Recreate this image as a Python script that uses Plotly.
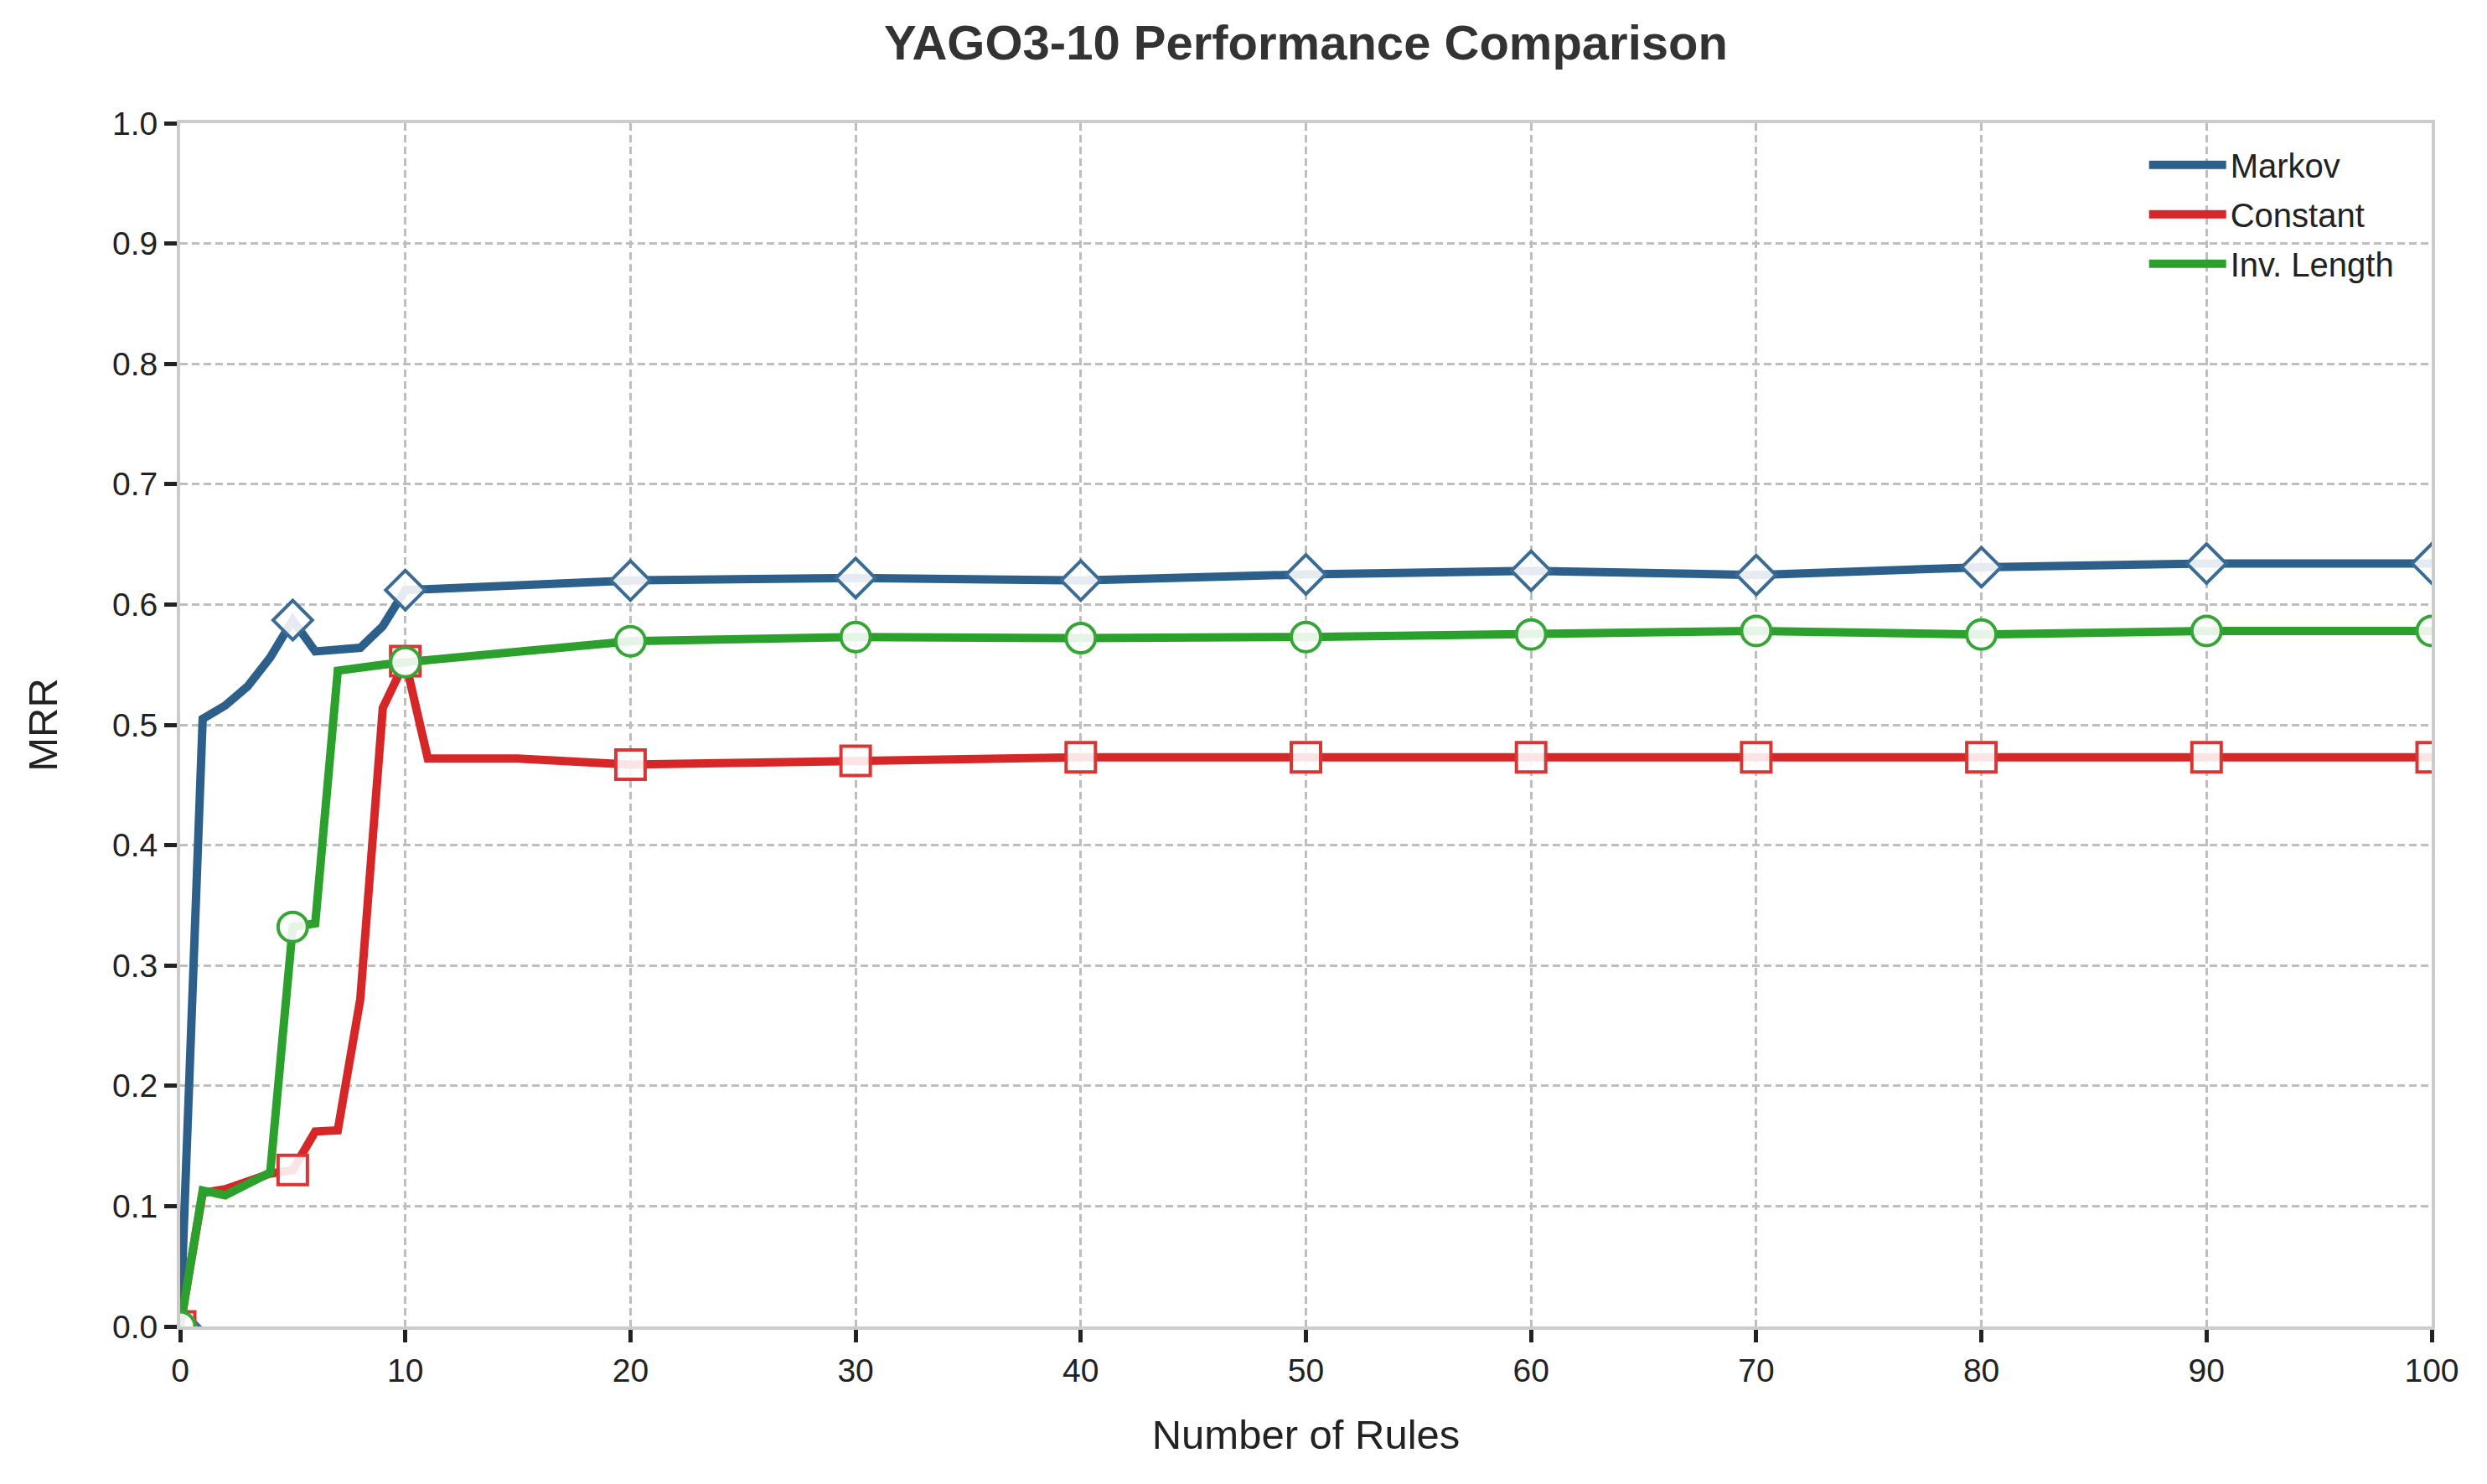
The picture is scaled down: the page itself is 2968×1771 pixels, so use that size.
import plotly.graph_objects as go

# ---- data ----
markov_x = [0, 1, 2, 3, 4, 5, 6, 7, 8, 9, 10, 20, 30, 40, 50, 60, 70, 80, 90, 100]
markov_y = [0.0, 0.505, 0.516, 0.532, 0.556, 0.587, 0.561, 0.562, 0.564, 0.582, 0.612,
            0.620, 0.622, 0.620, 0.625, 0.628, 0.6245, 0.631, 0.634, 0.634]

constant_x = [0, 1, 2, 3, 4, 5, 6, 7, 8, 9, 10, 11, 15, 20, 30, 40, 50, 60, 70, 80, 90, 100]
constant_y = [0.0, 0.111, 0.114, 0.120, 0.127, 0.130, 0.162, 0.163, 0.272, 0.514, 0.553,
              0.472, 0.472, 0.467, 0.470, 0.473, 0.473, 0.473, 0.473, 0.473, 0.473, 0.473]

invlen_x = [0, 1, 2, 3, 4, 5, 6, 7, 8, 9, 10, 20, 30, 40, 50, 60, 70, 80, 90, 100]
invlen_y = [0.0, 0.113, 0.109, 0.119, 0.128, 0.332, 0.335, 0.545, 0.548, 0.550, 0.552,
            0.5695, 0.573, 0.572, 0.573, 0.575, 0.578, 0.575, 0.578, 0.578]

marker_x = [0, 5, 10, 20, 30, 40, 50, 60, 70, 80, 90, 100]

series = [
    ("Markov", markov_x, markov_y, "#2c5f8a", "#3a6b95", "diamond", 36),
    ("Constant", constant_x, constant_y, "#d62728", "#d83535", "square", 35),
    ("Inv. Length", invlen_x, invlen_y, "#2ca02c", "#35a535", "circle", 35),
]

x_ticks = [0, 10, 20, 30, 40, 50, 60, 70, 80, 90, 100]
y_ticks = [0.0, 0.1, 0.2, 0.3, 0.4, 0.5, 0.6, 0.7, 0.8, 0.9, 1.0]

FONT = "Liberation Sans, Arial, sans-serif"

# page body has an 8px default margin; size the figure so it fits the window
W, H = 2952, 1755

fig = go.Figure()
for name, xs, ys, color, edge, sym, msize in series:
    fig.add_trace(go.Scatter(
        x=xs, y=ys, mode="lines", name=name, legendgroup=name,
        line=dict(color=color, width=10),
    ))
    mx = [x for x in xs if x in marker_x]
    my = [y for x, y in zip(xs, ys) if x in marker_x]
    fig.add_trace(go.Scatter(
        x=mx, y=my, mode="markers", name=name, legendgroup=name, showlegend=False,
        marker=dict(symbol=sym, size=msize, color="rgba(255,255,255,0.88)",
                    line=dict(color=edge, width=4)),
    ))

axis_common = dict(
    showline=True, linecolor="#cccccc", linewidth=4, mirror=True,
    showgrid=True, gridcolor="#bebebe", gridwidth=3, griddash="9px,5px",
    ticks="outside", ticklen=15, tickwidth=5, tickcolor="#222222",
    tickfont=dict(family=FONT, size=39, color="#222222"),
    zeroline=False,
)

fig.update_layout(
    width=W, height=H,
    paper_bgcolor="white", plot_bgcolor="white",
    margin=dict(l=207, r=58, t=139, b=180),
    title=dict(text="<b>YAGO3-10 Performance Comparison</b>",
               xref="paper", x=0.5, xanchor="center",
               y=1 - 43 / H, yanchor="middle",
               font=dict(family=FONT, size=58, color="#333333")),
    xaxis=dict(range=[0, 100], tickvals=x_ticks,
               title=dict(text="Number of Rules", standoff=40,
                          font=dict(family=FONT, size=49, color="#222222")),
               **axis_common),
    yaxis=dict(range=[0, 1], tickvals=y_ticks, tickformat=".1f",
               title=dict(text="MRR", standoff=51,
                          font=dict(family=FONT, size=49, color="#222222")),
               **axis_common),
    legend=dict(x=0.985, xanchor="right", y=0.988, yanchor="top",
                bgcolor="rgba(255,255,255,0)", borderwidth=0,
                font=dict(family=FONT, size=40, color="#222222"),
                itemwidth=92, tracegroupgap=4, traceorder="grouped"),
)

fig.write_html("out.html")
